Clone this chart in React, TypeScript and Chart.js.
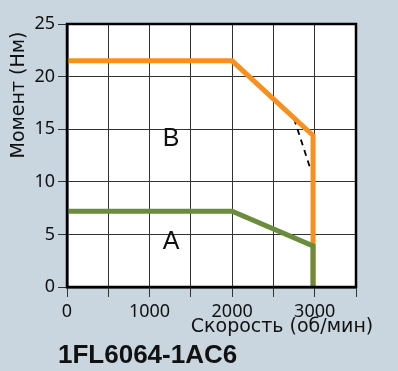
import React, { useEffect, useRef } from "react";
import { Chart, registerables } from "chart.js";

Chart.register(...registerables);

const speedB = [0, 2000, 2980, 2980];
const torqueB = [21.5, 21.5, 14.4, 0];
const speedA = [0, 2000, 2980, 2980];
const torqueA = [7.2, 7.2, 3.9, 0];
const speedDash = [2750, 2945];
const torqueDash = [16.0, 11.3];
const xLabelValues = [0, 1000, 2000, 3000];
const regionLabels = ["B", "A"];
const regionX = [1260, 1260];
const regionY = [14.1, 4.25];
const yTitle = "Момент (Нм)";
const xTitle = "Скорость (об/мин)";
const modelName = "1FL6064-1AC6";

const BG = "#c9d6df";
const ORANGE = "#f7901e";
const GREEN = "#6a8c3c";
const FONT = "'Noto Sans', sans-serif";
const TITLE_FONT = "'DejaVu Sans', sans-serif";

const pts = (xs: number[], ys: number[]) => xs.map((x, i) => ({ x, y: ys[i] }));

export default function App() {
  const ref = useRef<HTMLCanvasElement | null>(null);
  useEffect(() => {
    document.body.style.margin = "0";
    const canvas = ref.current!;
    const deco = {
      id: "deco",
      beforeDraw(chart: any) {
        const { ctx, chartArea: a } = chart;
        ctx.save();
        ctx.fillStyle = BG;
        ctx.fillRect(0, 0, chart.width, chart.height);
        ctx.fillStyle = "#ffffff";
        ctx.fillRect(a.left, a.top, a.right - a.left, a.bottom - a.top);
        ctx.restore();
      },
      afterDraw(chart: any) {
        const { ctx, chartArea: a, scales } = chart;
        ctx.save();
        ctx.strokeStyle = "#000";
        ctx.lineWidth = 2.5;
        ctx.strokeRect(a.left, a.top, a.right - a.left, a.bottom - a.top);
        ctx.fillStyle = "#111";
        // x tick labels (only every 1000)
        ctx.font = `18px ${FONT}`;
        ctx.textAlign = "center";
        ctx.textBaseline = "alphabetic";
        xLabelValues.forEach((v) => {
          ctx.fillText(String(v), scales.x.getPixelForValue(v), a.bottom + 30);
        });
        ctx.font = "25px 'Liberation Sans', Arial, sans-serif";
        ctx.textAlign = "center";
        ctx.textBaseline = "middle";
        regionLabels.forEach((t, i) => {
          ctx.fillText(t, scales.x.getPixelForValue(regionX[i]), scales.y.getPixelForValue(regionY[i]));
        });
        ctx.font = `19px ${TITLE_FONT}`;
        ctx.textAlign = "center";
        ctx.textBaseline = "alphabetic";
        ctx.fillText(xTitle, 282, 332);
        ctx.save();
        ctx.translate(24, 95);
        ctx.rotate(-Math.PI / 2);
        ctx.textAlign = "center";
        ctx.fillText(yTitle, 0, 0);
        ctx.restore();
        ctx.font = "bold 26px 'Liberation Sans', Arial, sans-serif";
        ctx.textAlign = "left";
        ctx.fillText(modelName, 58, 363);
        ctx.restore();
      },
    };
    const chart = new Chart(canvas, {
      type: "scatter",
      data: {
        datasets: [
          { data: pts(speedA, torqueA), showLine: true, borderColor: GREEN, borderWidth: 5, pointRadius: 0, order: 0, borderJoinStyle: "miter" },
          { data: pts(speedB, torqueB), showLine: true, borderColor: ORANGE, borderWidth: 5, pointRadius: 0, order: 1, borderJoinStyle: "miter" },
          { data: pts(speedDash, torqueDash), showLine: true, borderColor: "#000", borderWidth: 1.8, borderDash: [6, 5], pointRadius: 0, order: 2 },
        ],
      } as any,
      options: {
        animation: false,
        responsive: false,
        maintainAspectRatio: false,
        layout: { padding: { left: 0, top: 24, right: 42, bottom: 44 } },
        plugins: { legend: { display: false }, tooltip: { enabled: false }, title: { display: false } },
        scales: {
          x: {
            type: "linear",
            min: 0,
            max: 3500,
            afterFit: (s: any) => { s.height = 40; },
            ticks: {
              stepSize: 500,
              autoSkip: false,
              maxRotation: 0,
              color: "rgba(0,0,0,0)",
              font: { family: FONT, size: 18 },
            },
            grid: { color: "#333", lineWidth: 1, tickLength: 10, tickColor: "#333" },
            border: { color: "#000", width: 2.5 },
          },
          y: {
            type: "linear",
            min: 0,
            max: 25,
            afterFit: (s: any) => { s.width = 67; },
            ticks: {
              stepSize: 5,
              padding: 3,
              color: "#111",
              font: { family: FONT, size: 18 },
            },
            grid: { color: "#333", lineWidth: 1, tickLength: 9, tickColor: "#333" },
            border: { color: "#000", width: 2.5 },
          },
        },
      } as any,
      plugins: [deco],
    });
    return () => chart.destroy();
  }, []);
  return (
    <div style={{ width: 398, height: 371 }}>
      <canvas ref={ref} width={398} height={371} style={{ display: "block" }} />
    </div>
  );
}
